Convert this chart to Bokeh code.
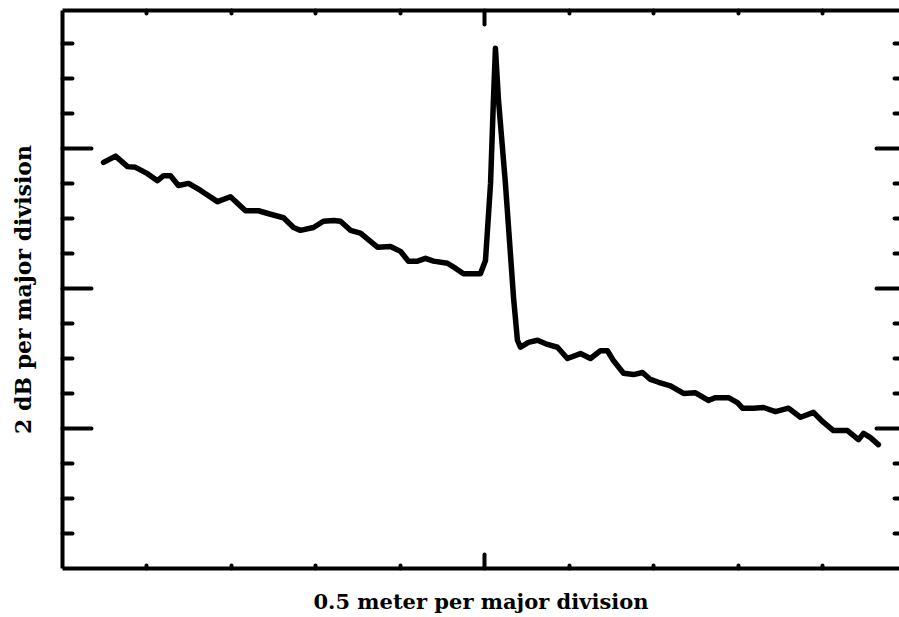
from bokeh.plotting import figure
from bokeh.models import Range1d, LinearAxis, FixedTicker
from bokeh.embed import file_html
from bokeh.resources import INLINE

# distance along fibre (meters) and relative level (dB)
distance_m = [0.243, 0.314, 0.385, 0.432, 0.503, 0.562, 0.598, 0.639, 0.686, 0.746,
              0.817, 0.917, 0.994, 1.083, 1.160, 1.231, 1.308, 1.367, 1.408, 1.485,
              1.544, 1.604, 1.645, 1.704, 1.763, 1.864, 1.941, 2.000, 2.047, 2.101,
              2.148, 2.195, 2.278, 2.325, 2.373, 2.473, 2.503, 2.533, 2.550, 2.562,
              2.580, 2.621, 2.669, 2.692, 2.710, 2.757, 2.811, 2.870, 2.929, 2.988,
              3.065, 3.124, 3.183, 3.225, 3.260, 3.320, 3.379, 3.432, 3.479, 3.527,
              3.598, 3.675, 3.746, 3.822, 3.864, 3.941, 3.994, 4.024, 4.089, 4.148,
              4.219, 4.296, 4.367, 4.444, 4.497, 4.562, 4.645, 4.710, 4.740, 4.781,
              4.828]
level_db = [5.80, 5.89, 5.74, 5.73, 5.64, 5.54, 5.61, 5.61, 5.47, 5.50,
            5.40, 5.24, 5.31, 5.11, 5.11, 5.06, 5.01, 4.87, 4.83, 4.87,
            4.96, 4.97, 4.96, 4.83, 4.79, 4.59, 4.60, 4.53, 4.39, 4.39,
            4.43, 4.39, 4.36, 4.29, 4.21, 4.21, 4.40, 5.50, 6.69, 7.43,
            6.69, 5.50, 3.87, 3.26, 3.16, 3.23, 3.26, 3.20, 3.16, 3.00,
            3.07, 3.00, 3.11, 3.11, 2.97, 2.79, 2.77, 2.80, 2.70, 2.66,
            2.61, 2.50, 2.51, 2.40, 2.44, 2.44, 2.37, 2.29, 2.29, 2.30,
            2.24, 2.29, 2.16, 2.23, 2.10, 1.97, 1.97, 1.84, 1.93, 1.87,
            1.77]

x_major = [2.5]
x_minor = [0.5, 1.0, 1.5, 2.0, 3.0, 3.5, 4.0, 4.5]
y_major = [2, 4, 6]
y_minor = [0.5, 1.0, 1.5, 2.5, 3.0, 3.5, 4.5, 5.0, 5.5, 6.5, 7.0, 7.5]

FONT = "DejaVu Serif"

p = figure(width=899, height=617, output_backend="svg", toolbar_location=None,
           x_range=Range1d(0, 4.953), y_range=Range1d(0, 7.97),
           x_axis_location=None, y_axis_location=None,
           min_border_left=62, min_border_right=0, min_border_top=10, min_border_bottom=49)
p.outline_line_color = None
p.xgrid.grid_line_color = None
p.ygrid.grid_line_color = None
p.background_fill_color = "white"
p.border_fill_color = "white"


def style(ax, ticks, major_in, minor_in, line=True):
    ax.major_tick_in = major_in
    ax.major_tick_out = 0
    ax.minor_tick_in = minor_in
    ax.minor_tick_out = 0
    ax.major_tick_line_width = 4
    ax.minor_tick_line_width = 4
    ax.major_tick_line_color = "black"
    ax.minor_tick_line_color = "black"
    ax.major_tick_line_cap = "round"
    ax.minor_tick_line_cap = "round"
    ax.major_label_overrides = {t: "" for t in ticks}
    ax.major_label_text_font_size = "0px"
    ax.major_label_standoff = 0
    if line:
        ax.axis_line_width = 4
        ax.axis_line_color = "black"
    else:
        ax.axis_line_color = None


left = LinearAxis(ticker=FixedTicker(ticks=y_major, minor_ticks=y_minor))
style(left, y_major, 29, 10)
left.axis_label = "2 dB per major division"
left.axis_label_text_font = FONT
left.axis_label_text_font_style = "bold"
left.axis_label_text_font_size = "22px"
left.axis_label_text_color = "black"
left.axis_label_standoff = 27
p.add_layout(left, "left")

right = LinearAxis(ticker=FixedTicker(ticks=y_major, minor_ticks=y_minor))
style(right, y_major, 23, 5, line=False)
p.add_layout(right, "right")

bottom = LinearAxis(ticker=FixedTicker(ticks=x_major, minor_ticks=x_minor))
style(bottom, x_major, 14, 3)
bottom.axis_label = "0.5 meter per major division"
bottom.axis_label_text_font = FONT
bottom.axis_label_text_font_style = "bold"
bottom.axis_label_text_font_size = "21px"
bottom.axis_label_text_color = "black"
bottom.axis_label_standoff = 20
p.add_layout(bottom, "below")

top = LinearAxis(ticker=FixedTicker(ticks=x_major, minor_ticks=x_minor))
style(top, x_major, 14, 3)
p.add_layout(top, "above")

p.line(distance_m, level_db, line_color="black", line_width=5.5,
       line_join="round", line_cap="round")

open("out.html", "w").write(file_html(p, INLINE))
